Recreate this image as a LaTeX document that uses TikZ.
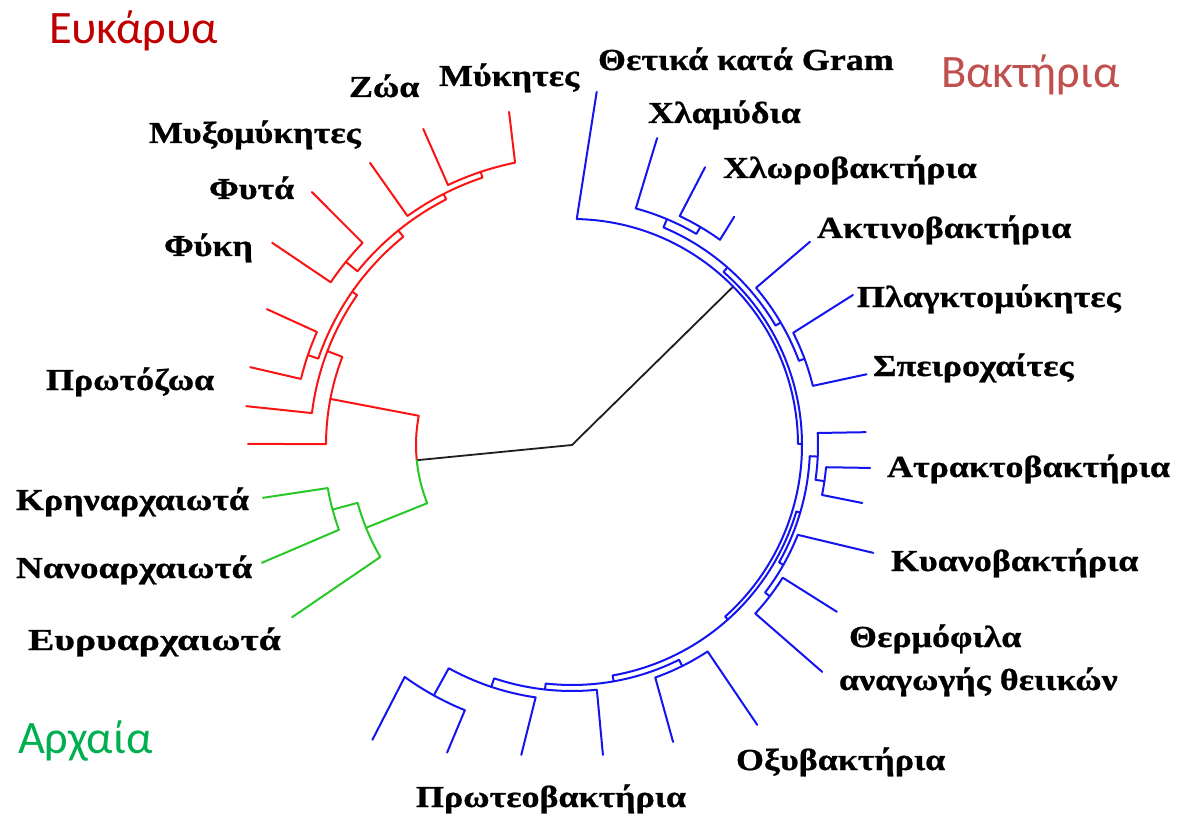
\documentclass[tikz,border=0pt]{standalone}
\usepackage{graphicx}
\usepackage{fontspec}
\setmainfont{Liberation Serif}
\newfontfamily\labfont[FakeStretch=1.18,BoldFeatures={FakeBold=0.8}]{Liberation Serif}
\newfontfamily\ttlfont{Carlito}
\definecolor{tRed}{RGB}{250,20,20}
\definecolor{tBlue}{RGB}{20,20,240}
\definecolor{tGreen}{RGB}{40,200,40}
\definecolor{tBlack}{RGB}{30,30,30}
\definecolor{cEuk}{RGB}{192,0,0}
\definecolor{cBac}{RGB}{192,80,77}
\definecolor{cArc}{RGB}{0,176,80}
\begin{document}
\begin{tikzpicture}[x=1pt,y=-1pt,line width=2pt,line cap=round,line join=round,
  lab/.style={font=\labfont\bfseries\fontsize{30.5}{34}\selectfont,anchor=base west,inner sep=0pt,text=black},
  ttl/.style={font=\ttlfont\fontsize{46.5}{52}\selectfont,anchor=base west,inner sep=0pt}]
\useasboundingbox (0,0) rectangle (1196,818);
\fill[white] (0,0) rectangle (1196,818);
\begin{scope}[shift={(572,445)}]
% root
\draw[tBlack,line width=1.8pt] (174.4:156) -- (0,0) -- (-44.5:226);
% Eukaryotes
\begin{scope}[tRed]
\draw (174.4:156) arc[start angle=174.4,end angle=190.8,radius=156] -- (190.8:246);
\draw (180.2:324) -- (180.2:246) arc[start angle=180.2,end angle=201,radius=246] -- (201:262);
\draw (186.8:328) -- (187:262) arc[start angle=187,end angle=214.9,radius=262] -- (214.9:268);
\draw (198.8:279) -- (198.8:268) arc[start angle=198.8,end angle=231,radius=268] -- (231:276);
\draw (193.6:331) -- (193.7:279) arc[start angle=193.7,end angle=203.9,radius=279] -- (204:334);
\draw (219:291) -- (219:276) arc[start angle=219,end angle=242.9,radius=276] -- (242.9:282);
\draw (214:361.7) -- (214:291) arc[start angle=214,end angle=224,radius=291] -- (224.2:362.8);
\draw (234.4:347) -- (234.3:282) arc[start angle=234.3,end angle=251.5,radius=282] -- (251.5:288);
\draw (244.8:349.4) -- (244.5:288) arc[start angle=244.5,end angle=258.6,radius=288] -- (259.3:339);
\end{scope}
% Archaea
\begin{scope}[tGreen]
\draw (174.4:156) arc[start angle=174.4,end angle=158.1,radius=156] -- (158.1:222);
\draw (148.4:328.6) -- (149.7:222) arc[start angle=149.7,end angle=164.9,radius=222] -- (164.9:248);
\draw (159.2:331.7) -- (160:248) arc[start angle=160,end angle=170,radius=248] -- (170.3:313.5);
\end{scope}
% Bacteria
\begin{scope}[tBlue]
\draw (-86:354) -- (-88.8:226) arc[start angle=-88.8,end angle=-0.3,radius=226] -- (-0.3:230);
\draw (-48.8:236) -- (-48.8:230) arc[start angle=-48.8,end angle=48.25,radius=230] -- (48.25:234);
\draw (-67.2:245) -- (-67.2:236) arc[start angle=-67.2,end angle=-30.4,radius=236] -- (-30.4:242);
\draw (-74.5:318.5) -- (-74.9:245) arc[start angle=-74.9,end angle=-59.5,radius=245] -- (-59.5:253);
\draw (-64.4:308) -- (-64.8:253) arc[start angle=-64.8,end angle=-54.2,radius=253] -- (-54.6:280);
\draw (-40.5:313) -- (-40.5:242) arc[start angle=-40.5,end angle=-20.35,radius=242] -- (-20.35:248);
\draw (-28.1:318.5) -- (-26.9:248) arc[start angle=-26.9,end angle=-13.8,radius=248] -- (-13.5:303);
\draw (16.5:238) -- (16.5:234) arc[start angle=16.5,end angle=80,radius=234] -- (80:240);
\draw (2.7:246) -- (2.7:238) arc[start angle=2.7,end angle=29.55,radius=238] -- (29.55:243);
\draw (-2.5:294) -- (-2.8:246) arc[start angle=-2.8,end angle=8.15,radius=246] -- (8.15:255);
\draw (4.4:299) -- (5:255) arc[start angle=5,end angle=11.3,radius=255] -- (11.3:296);
\draw (19.7:320) -- (21.7:243) arc[start angle=21.7,end angle=37.4,radius=243] -- (37.4:249);
\draw (32.2:313) -- (32.2:249) arc[start angle=32.2,end angle=42.6,radius=249] -- (42.2:337.7);
\draw (63.5:247) -- (63.5:240) arc[start angle=63.5,end angle=96.3,radius=240] -- (96.3:246);
\draw (56.5:335.6) -- (56.7:247) arc[start angle=56.7,end angle=70.3,radius=247] -- (71.2:313.7);
\draw (84.3:311.5) -- (84.2:246) arc[start angle=84.2,end angle=108.45,radius=246] -- (108.45:255);
\draw (99.3:314) -- (98.2:255) arc[start angle=98.2,end angle=118.9,radius=255] -- (118.9:286);
\draw (112.1:332) -- (112:286) arc[start angle=112,end angle=125.8,radius=286] -- (124.1:356);
\end{scope}
\end{scope}
% titles
\node[ttl,text=cEuk] (tEuk) at (48,44) {Ευκάρυα};
\node[ttl,text=cBac] (tBac) at (940,88) {Βακτήρια};
\node[ttl,text=cArc] (tArc) at (17,753) {Αρχαία};
% labels
\node[lab] (l1) at (438,86) {Μύκητες};
\node[lab] (l2) at (348,97) {Ζώα};
\node[lab] (l3) at (148,143) {Μυξομύκητες};
\node[lab] (l4) at (208,199) {Φυτά};
\node[lab] (l5) at (163,256) {Φύκη};
\node[lab] (l6) at (45,390) {Πρωτόζωα};
\node[lab] (l7) at (15,510) {Κρηναρχαιωτά};
\node[lab] (l8) at (15,578) {\scalebox{1.03}[1]{Νανοαρχαιωτά}};
\node[lab] (l9) at (27,650) {\scalebox{1.1}[1]{Ευρυαρχαιωτά}};
\node[lab] (b1) at (597,70) {Θετικά κατά Gram};
\node[lab] (b2) at (647,123) {Χλαμύδια};
\node[lab] (b3) at (722,178) {Χλωροβακτήρια};
\node[lab] (b4) at (816,238) {Ακτινοβακτήρια};
\node[lab] (b5) at (856,307) {Πλαγκτομύκητες};
\node[lab] (b6) at (872,376) {Σπειροχαίτες};
\node[lab] (b7) at (886,477) {Ατρακτοβακτήρια};
\node[lab] (b8) at (890,571) {Κυανοβακτήρια};
\node[lab] (b9) at (848,647) {Θερμόφιλα};
\node[lab] (b9b) at (838,690) {αναγωγής θειικών};
\node[lab] (b10) at (735,770) {Οξυβακτήρια};
\node[lab] (b11) at (415,807) {Πρωτεοβακτήρια};
\end{tikzpicture}
\end{document}
